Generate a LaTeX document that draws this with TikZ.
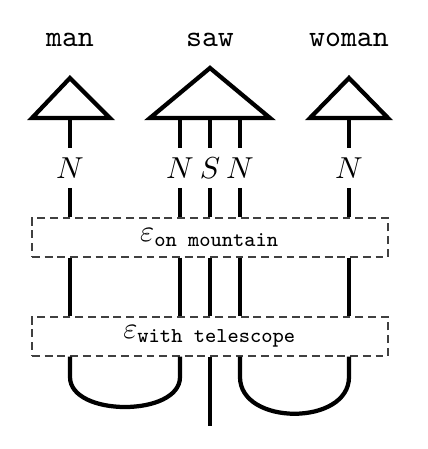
\documentclass[tikz,border=0pt]{standalone}
\usepackage{amsmath}
\usetikzlibrary{positioning, calc}
\begin{document}
\begin{tikzpicture}[
  x=0.33pt, y=-0.33pt,
  word/.style={font=\ttfamily},
  wire/.style={line width=1.4pt},
  tri/.style={line width=1.4pt, line join=miter},
  type/.style={inner sep=3pt},
  effect/.style={rectangle, draw=black!75, dash pattern=on 2.6pt off 1.6pt, minimum width=117.5pt, minimum height=12.9pt, inner sep=0pt}
]
  \useasboundingbox (0,0) rectangle (428,449);

  % words and their triangles
  \node[word] (man) at (70,40) {man};
  \node[word] (saw) at (210,40) {saw};
  \node[word] (woman) at (349,40) {woman};
  \draw[tri] (32,118) -- (70,78) -- (110,118) -- cycle;
  \draw[tri] (150,118) -- (210,68) -- (270,118) -- cycle;
  \draw[tri] (310,118) -- (349,78) -- (388,118) -- cycle;
  \coordinate (man-out) at (70,118);
  \coordinate (saw-outl) at (180,118);
  \coordinate (saw-outs) at (210,118);
  \coordinate (saw-outr) at (240,118);
  \coordinate (woman-out) at (349,118);

  % types
  \node[type] (nman) at (70,168) {$N$};
  \node[type] (nsawl) at (180,168) {$N$};
  \node[type] (ssaw) at (210,168) {$S$};
  \node[type] (nsawr) at (240,168) {$N$};
  \node[type] (nwoman) at (349,168) {$N$};

  % effects
  \node[effect] (mount) at (210,237.5) {$\varepsilon_{\texttt{on mountain}}$};
  \node[effect] (tele) at (210,336.5) {$\varepsilon_{\texttt{with telescope}}$};

  \coordinate (cupl-a) at (70,377);
  \coordinate (cupl-b) at (180,377);
  \coordinate (cupr-a) at (240,377);
  \coordinate (cupr-b) at (349,377);
  \coordinate (s-end) at (210,426);

  \foreach \t/\w in {man-out/nman, saw-outl/nsawl, saw-outs/ssaw, saw-outr/nsawr, woman-out/nwoman} {
    \draw[wire] (\t) -- (\w.north);
    \draw[wire] (\w.south) -- (\w.south |- mount.north);
    \draw[wire] (\w |- mount.south) -- (\w |- tele.north);
  }

  % cups
  \draw[wire] (nman |- tele.south) -- (cupl-a) .. controls +(0,40) and +(0,40) .. (cupl-b) -- (nsawl |- tele.south);
  \draw[wire] (nsawr |- tele.south) -- (cupr-a) .. controls +(0,49) and +(0,49) .. (cupr-b) -- (nwoman |- tele.south);
  \draw[wire] (ssaw |- tele.south) -- (s-end);
\end{tikzpicture}
\end{document}
